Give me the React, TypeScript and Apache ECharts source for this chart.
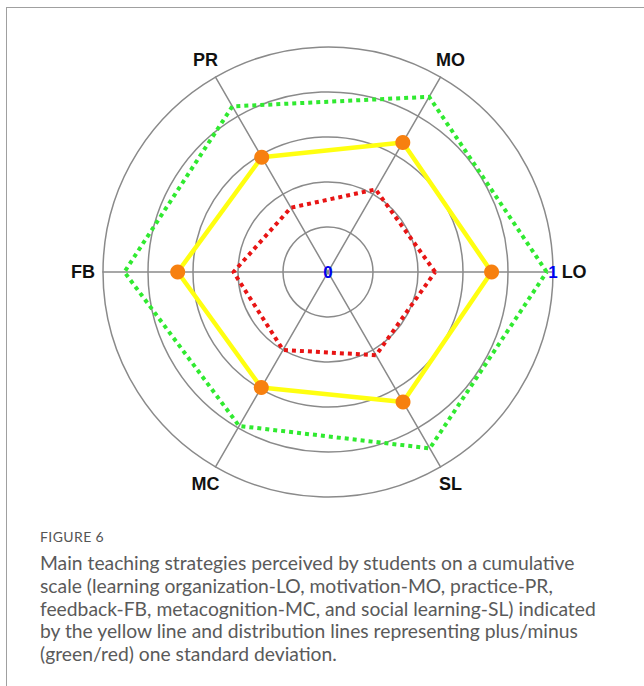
import React, { useEffect, useRef } from "react";
import * as echarts from "echarts";

const indicators = ["LO", "MO", "PR", "FB", "MC", "SL"];
const meanValues = [0.727, 0.665, 0.589, 0.668, 0.593, 0.667];
const plusSdValues = [0.972, 0.899, 0.85, 0.905, 0.79, 0.905];
const minusSdValues = [0.476, 0.424, 0.33, 0.42, 0.4, 0.427];
const axisMin = 0;
const axisMax = 1;

const captionTitle = "FIGURE 6";
const captionLines = [
  "Main teaching strategies perceived by students on a cumulative",
  "scale (learning organization-LO, motivation-MO, practice-PR,",
  "feedback-FB, metacognition-MC, and social learning-SL) indicated",
  "by the yellow line and distribution lines representing plus/minus",
  "(green/red) one standard deviation.",
];

export default function App() {
  const ref = useRef<HTMLDivElement>(null);
  useEffect(() => {
    if (!ref.current) return;
    const chart = echarts.init(ref.current, undefined, { renderer: "svg" });
    const gray = "#8a8a8a";
    chart.setOption({
      animation: false,
      radar: {
        center: [328, 272],
        radius: 225,
        startAngle: 0,
        shape: "circle",
        splitNumber: 5,
        nameGap: 20,
        axisName: {
          color: "#111",
          fontFamily: "Liberation Sans, Arial, sans-serif",
          fontWeight: "bold",
          fontSize: 18,
          align: "center",
          verticalAlign: "middle",
        },
        axisLine: { lineStyle: { color: gray, width: 1.5 } },
        splitLine: { lineStyle: { color: gray, width: 1.5 } },
        splitArea: { show: false },
        axisTick: { show: false },
        axisLabel: { show: false },
        indicator: indicators.map((name, i) => {
          const ind: any = { name, min: axisMin, max: axisMax };
          if (i === 0) {
            ind.axisLabel = {
              show: true,
              color: "#0000ee",
              fontFamily: "Liberation Sans, Arial, sans-serif",
              fontWeight: "bold",
              fontSize: 17,
              margin: 0,
              align: "center",
              verticalAlign: "middle",
              showMinLabel: true,
              showMaxLabel: true,
              hideOverlap: false,
              formatter: (v: number) =>
                v === axisMin || v === axisMax ? String(v) : "",
            };
          }
          return ind;
        }),
      },
      series: [
        {
          type: "radar",
          z: 2,
          data: [
            {
              name: "+1 SD",
              value: plusSdValues,
              symbol: "none",
              lineStyle: { color: "#30ea30", width: 4, type: [4, 4] },
            },
            {
              name: "-1 SD",
              value: minusSdValues,
              symbol: "none",
              lineStyle: { color: "#e81414", width: 4, type: [4, 4] },
            },
            {
              name: "Mean",
              value: meanValues,
              symbol: "circle",
              symbolSize: 15,
              itemStyle: { color: "#f7800f", borderWidth: 0 },
              lineStyle: { color: "#ffff10", width: 4.5, type: "solid" },
            },
          ],
        },
      ],
    });
    return () => chart.dispose();
  }, []);

  return (
    <div
      style={{
        position: "fixed",
        left: 0,
        top: 0,
        width: 644,
        height: 686,
        overflow: "hidden",
        background: "#fff",
      }}
    >
      <div
        style={{
          position: "absolute",
          left: 6,
          top: 7,
          width: 700,
          height: 700,
          borderLeft: "1.5px solid #a0a0a0",
          borderTop: "1.5px solid #a0a0a0",
        }}
      />
      <div
        ref={ref}
        style={{ position: "absolute", left: 0, top: 0, width: 644, height: 520 }}
      />
      <div
        style={{
          position: "absolute",
          left: 40,
          top: 528,
          fontFamily: "Lato, 'Open Sans', sans-serif",
          fontSize: 14,
          lineHeight: "17px",
          color: "#555",
          letterSpacing: 0.4,
        }}
      >
        {captionTitle}
      </div>
      <div
        style={{
          position: "absolute",
          left: 40,
          top: 552,
          fontFamily: "Lato, 'Open Sans', sans-serif",
          fontSize: 19.3,
          lineHeight: "22.8px",
          color: "#5a5a5a",
          whiteSpace: "nowrap",
        }}
      >
        {captionLines.map((l, i) => (
          <div key={i}>{l}</div>
        ))}
      </div>
    </div>
  );
}
